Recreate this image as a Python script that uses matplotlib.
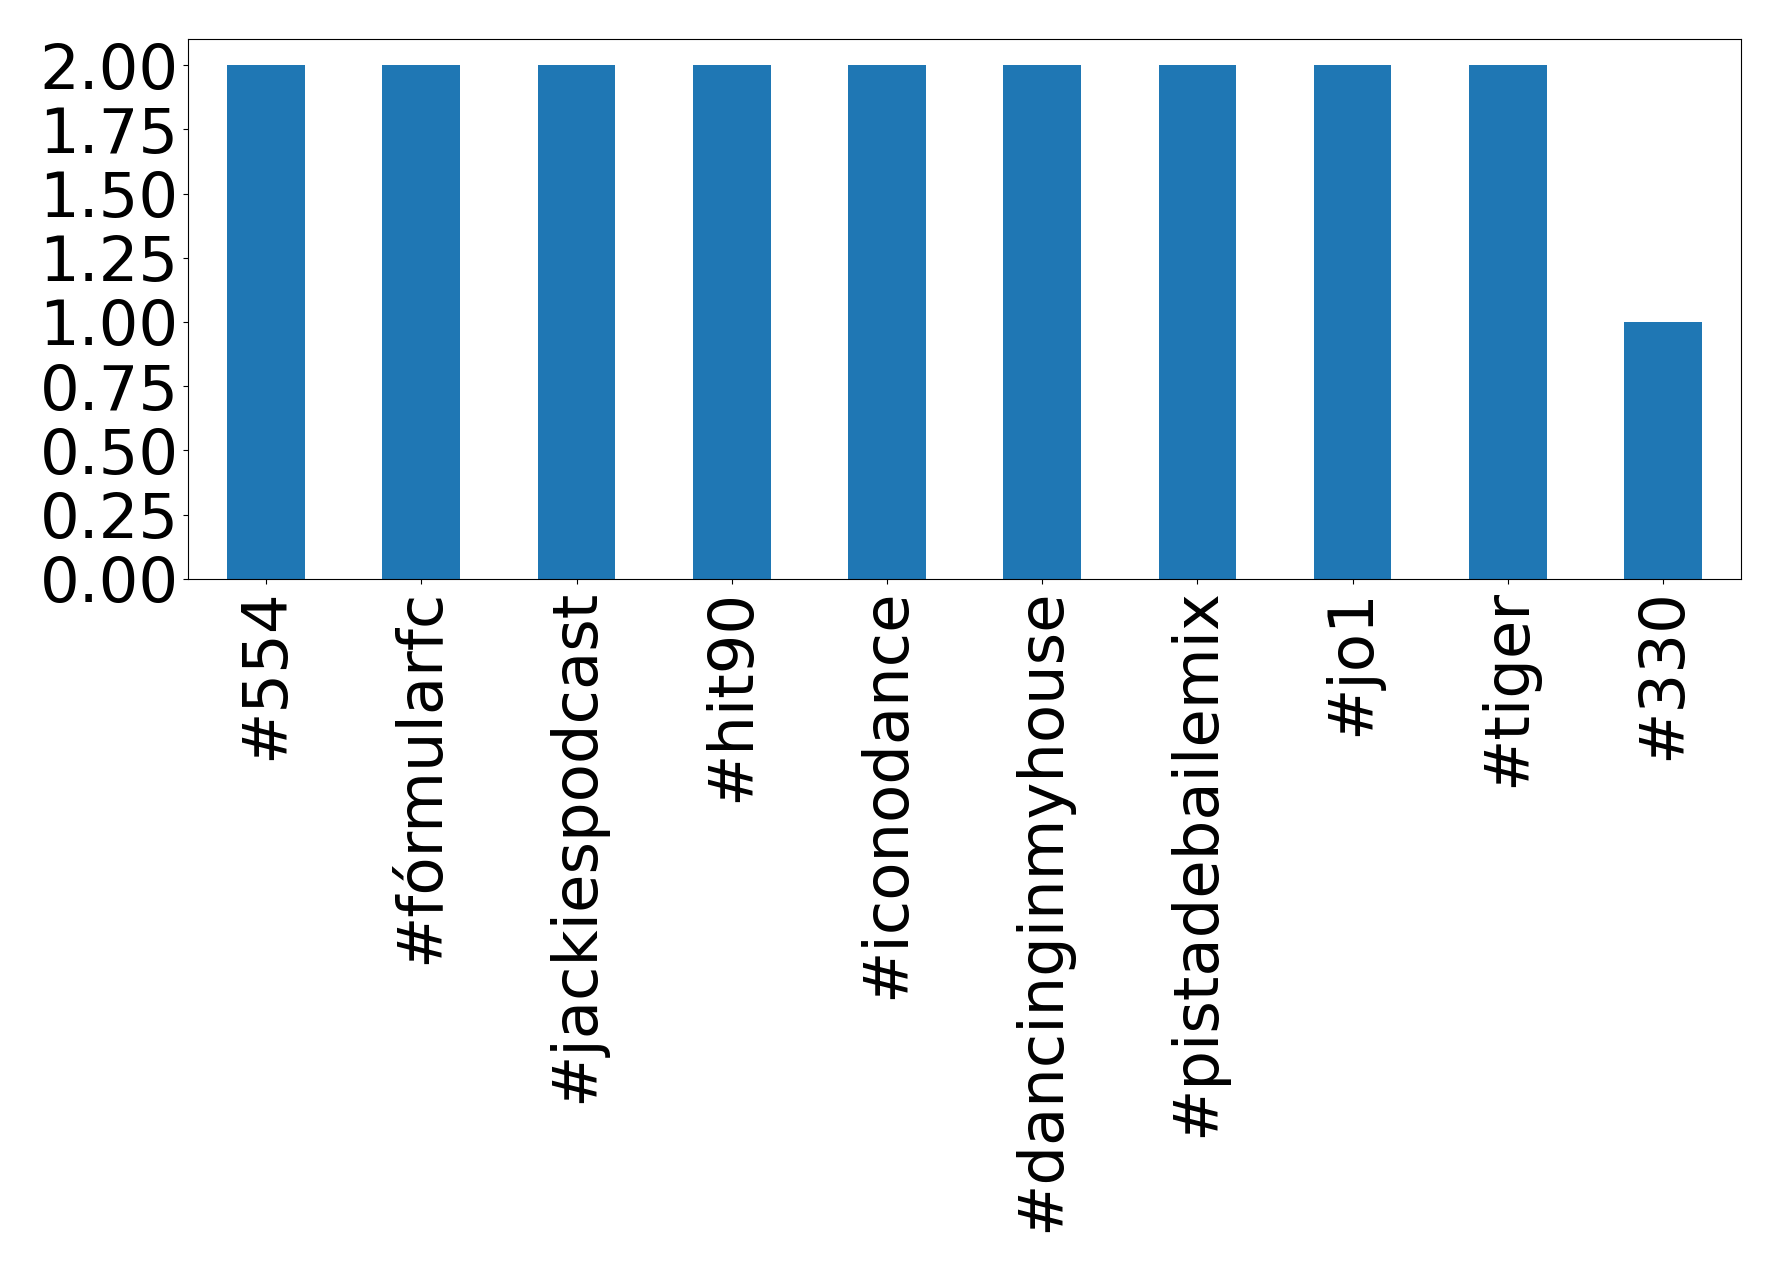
import matplotlib
matplotlib.use("Agg")
import matplotlib.pyplot as plt
import pandas as pd

# hashtag counts
hashtags = ["#554", "#fórmularfc", "#jackiespodcast", "#hit90", "#iconodance",
            "#dancinginmyhouse", "#pistadebailemix", "#jo1", "#tiger", "#330"]
counts = [2, 2, 2, 2, 2, 2, 2, 2, 2, 1]

s = pd.Series(counts, index=hashtags)

fig, ax = plt.subplots(figsize=(17.78, 12.72), dpi=100)
s.plot(kind="bar", ax=ax, fontsize=45)

plt.subplots_adjust(left=0.106, right=0.979, top=0.969, bottom=0.545)
fig.savefig("out.png", dpi=100)
